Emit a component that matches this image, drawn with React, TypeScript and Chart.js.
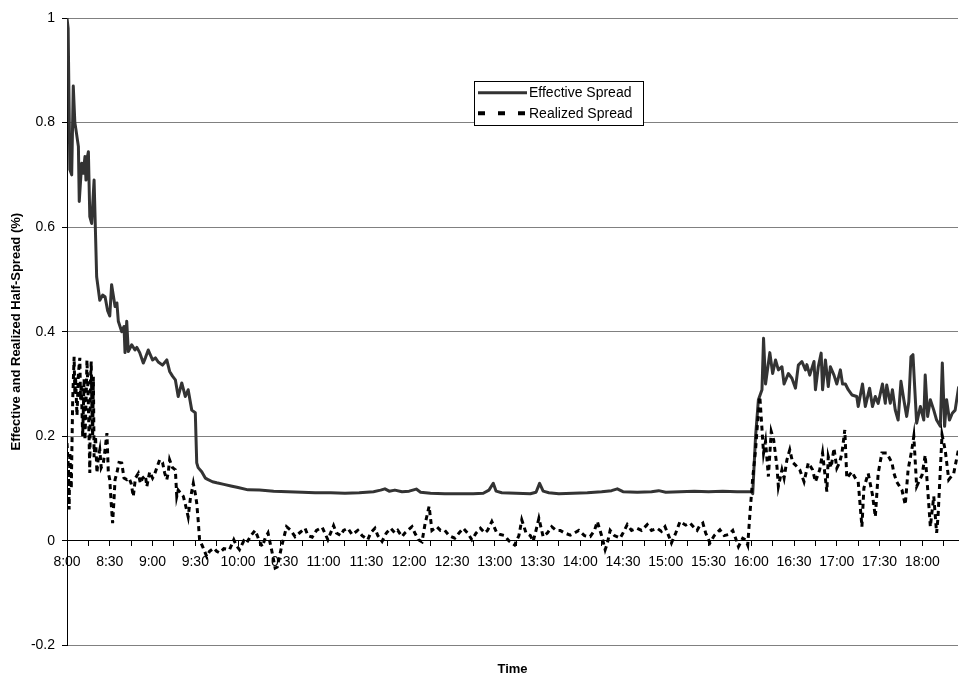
import React, { useEffect, useRef } from 'react';
import { Chart, registerables } from 'chart.js';

Chart.register(...registerables);

// Minutes after 8:00 and values (%)
const EFFECTIVE_TIME = [
  0, 0.8, 2, 3.3, 4.4, 5.5, 6.3, 8, 8.6, 10.3,
  11.4, 12.6, 13.3, 14, 15, 16, 17.3, 19, 20.8, 23,
  25, 26.7, 28.5, 30, 31.3, 33.7, 35, 36, 38.4, 40,
  40.7, 41.9, 43, 45.4, 47.7, 49, 51, 53.5, 55, 57,
  60, 62, 64, 67, 70, 72, 74, 76, 78, 80.5,
  83, 85, 87.5, 90, 91, 92, 94.5, 97, 99, 102,
  105, 110, 115, 120, 127, 135, 145, 155, 165, 174,
  185, 195, 205, 215, 220, 223, 226, 230, 235, 240,
  245, 248, 255, 265, 275, 285, 292, 296, 299, 301,
  305, 315, 325, 329, 331.5, 334, 338, 345, 355, 365,
  375, 382, 386, 390, 400, 410, 415, 420, 430, 440,
  450, 460, 470, 480, 481, 483, 485, 487.5, 488.6, 490,
  493, 495, 497, 499, 501.5, 503, 506, 508.5, 511, 513,
  515.5, 518, 519, 521, 524, 525, 527, 529, 530, 532,
  534, 535.5, 538, 540, 542.5, 544, 546, 548, 550.6, 554,
  555, 558, 560, 563, 565, 567, 569, 572, 574, 575,
  577.5, 579, 581, 583, 585, 587, 589, 590.5, 592, 593.4,
  594.6, 596, 598.6, 601, 602, 603.7, 605.6, 608, 610, 612.6,
  614, 615.6, 617, 619, 621, 623, 625.5,
];

const EFFECTIVE_SPREAD = [
  1.0, 0.98, 0.71, 0.70, 0.87, 0.80, 0.786, 0.754, 0.649, 0.722,
  0.703, 0.735, 0.69, 0.73, 0.744, 0.62, 0.607, 0.69, 0.505, 0.46,
  0.47, 0.467, 0.44, 0.43, 0.49, 0.448, 0.455, 0.42, 0.40, 0.41,
  0.36, 0.42, 0.362, 0.375, 0.365, 0.37, 0.36, 0.34, 0.35, 0.365,
  0.346, 0.35, 0.342, 0.336, 0.346, 0.324, 0.315, 0.308, 0.276, 0.302,
  0.276, 0.289, 0.25, 0.245, 0.149, 0.14, 0.132, 0.12, 0.117, 0.113,
  0.111, 0.108, 0.105, 0.102, 0.0975, 0.097, 0.095, 0.094, 0.093, 0.092,
  0.092, 0.091, 0.092, 0.094, 0.097, 0.0995, 0.095, 0.097, 0.094, 0.095,
  0.099, 0.093, 0.091, 0.090, 0.090, 0.090, 0.091, 0.097, 0.11, 0.095,
  0.092, 0.091, 0.090, 0.093, 0.11, 0.095, 0.092, 0.090, 0.091, 0.092,
  0.094, 0.096, 0.0995, 0.094, 0.093, 0.094, 0.096, 0.093, 0.094, 0.095,
  0.094, 0.095, 0.094, 0.094, 0.09, 0.20, 0.27, 0.289, 0.3875, 0.30,
  0.36, 0.32, 0.346, 0.327, 0.333, 0.30, 0.32, 0.311, 0.292, 0.336,
  0.343, 0.327, 0.337, 0.317, 0.343, 0.289, 0.333, 0.359, 0.289, 0.346,
  0.295, 0.333, 0.317, 0.30, 0.327, 0.30, 0.30, 0.289, 0.279, 0.276,
  0.257, 0.30, 0.257, 0.292, 0.257, 0.276, 0.263, 0.30, 0.263, 0.298,
  0.263, 0.289, 0.25, 0.231, 0.305, 0.27, 0.238, 0.266, 0.352, 0.356,
  0.295, 0.225, 0.257, 0.231, 0.317, 0.238, 0.27, 0.25, 0.231, 0.219,
  0.34, 0.219, 0.27, 0.231, 0.244, 0.25, 0.295,
];

const REALIZED_TIME = [
  0, 1, 1.5, 2, 3, 4, 5, 5.5, 6, 7,
  8, 9, 9.5, 10, 11, 12, 12.6, 13.5, 14, 15,
  16, 16.5, 17, 17.5, 18, 18.5, 19, 20, 21, 22,
  23, 24, 25.5, 26.5, 28, 29, 30, 31, 32, 33,
  33.7, 35, 36.5, 38.4, 40, 42, 43.5, 45, 46.5, 48,
  50, 51.5, 53, 55, 56, 58, 60, 61.5, 63, 65,
  67, 68.5, 70, 71, 72, 74, 76, 77, 78, 80,
  81.6, 83, 85, 86.5, 88.6, 90, 91, 92, 93, 95,
  98, 100, 103, 105, 107, 110, 114, 117, 119, 121,
  124, 126, 129, 132, 135, 137, 139, 141, 143.5, 146,
  147.5, 150.6, 154, 157, 160, 163, 167, 169, 172, 175,
  179, 183, 187, 189, 192, 194, 197, 200, 204, 207,
  211, 213, 216, 218, 221, 224, 227, 230, 232, 235,
  237, 242, 244, 246.5, 249, 251, 254, 256, 259.4, 262,
  265, 268, 272, 275, 278, 281, 284, 287, 290, 293,
  295, 298, 301.5, 304, 307, 310, 314, 317, 319, 322,
  325, 327, 329, 331, 334, 337, 340, 343, 346, 349,
  353, 356, 359, 363, 367, 370, 372, 375, 377.5, 379,
  381, 384, 388, 390, 393, 396, 400, 403, 407, 410,
  414, 417, 419.5, 422, 424, 427, 430, 434, 437, 440,
  442, 444, 446, 448, 451, 454, 458, 461, 464, 467,
  469, 471, 474, 476, 477.5, 479, 481, 483, 484, 486,
  488.6, 490, 492, 494, 495.7, 498, 499, 501.5, 503, 505,
  507, 509, 511, 514, 517, 520, 523, 525, 528, 530,
  533, 534, 536, 538, 540, 542, 543.6, 545.6, 547, 550.6,
  553, 555, 557.6, 559, 562, 565, 567, 569, 571.6, 575,
  578.7, 580, 582, 585.7, 588, 590, 592.6, 594, 596, 599.8,
  602, 604.6, 605.6, 608, 610, 611, 613.8, 616, 618.5, 622,
  625.5,
];

const REALIZED_SPREAD = [
  0.187, 0.14, 0.06, 0.17, 0.10, 0.27, 0.352, 0.28, 0.314, 0.24,
  0.32, 0.35, 0.27, 0.30, 0.20, 0.31, 0.193, 0.28, 0.346, 0.26,
  0.13, 0.31, 0.343, 0.25, 0.20, 0.314, 0.16, 0.20, 0.13, 0.16,
  0.174, 0.14, 0.149, 0.17, 0.206, 0.13, 0.117, 0.072, 0.034, 0.08,
  0.117, 0.13, 0.15, 0.149, 0.12, 0.117, 0.12, 0.11, 0.085, 0.12,
  0.129, 0.11, 0.12, 0.125, 0.104, 0.132, 0.12, 0.128, 0.14, 0.155,
  0.15, 0.13, 0.117, 0.13, 0.155, 0.14, 0.136, 0.085, 0.097, 0.09,
  0.085, 0.07, 0.046, 0.08, 0.11, 0.09, 0.072, 0.04, 0.002, -0.01,
  -0.03, -0.02, -0.014, -0.02, -0.023, -0.015, -0.017, 0.002, -0.01, -0.017,
  0.0, -0.004, 0.01, 0.02, -0.001, -0.011, 0.005, 0.015, -0.017, -0.052,
  -0.05, -0.01, 0.027, 0.02, 0.008, 0.015, 0.024, 0.01, 0.007, 0.02,
  0.026, 0.002, 0.029, 0.015, 0.01, 0.02, 0.024, 0.012, 0.02, 0.01,
  0.002, 0.015, 0.024, 0.01, -0.001, 0.015, 0.024, 0.015, 0.02, 0.008,
  0.015, 0.027, 0.015, 0.002, -0.002, 0.03, 0.066, 0.02, 0.027, 0.02,
  0.02, 0.01, 0.005, 0.015, 0.024, 0.015, 0.002, 0.015, 0.024, 0.015,
  0.02, 0.037, 0.015, 0.012, 0.01, 0.0, -0.008, 0.01, 0.04, 0.015,
  0.01, -0.001, 0.02, 0.043, 0.008, 0.015, 0.027, 0.02, 0.02, 0.015,
  0.011, 0.015, 0.02, 0.01, 0.008, 0.02, 0.037, 0.01, -0.017, -0.005,
  0.02, 0.01, 0.005, 0.015, 0.031, 0.02, 0.024, 0.02, 0.031, 0.02,
  0.024, 0.018, 0.027, 0.01, -0.004, 0.015, 0.037, 0.03, 0.034, 0.025,
  0.02, 0.03, 0.034, 0.015, -0.004, 0.01, 0.021, 0.01, 0.012, 0.02,
  0.005, -0.011, 0.005, 0.002, -0.008, 0.05, 0.12, 0.174, 0.212, 0.276,
  0.168, 0.19, 0.123, 0.209, 0.193, 0.142, 0.104, 0.136, 0.12, 0.155,
  0.174, 0.15, 0.145, 0.136, 0.113, 0.149, 0.136, 0.113, 0.136, 0.168,
  0.094, 0.161, 0.14, 0.177, 0.139, 0.15, 0.168, 0.212, 0.12, 0.132,
  0.12, 0.113, 0.027, 0.101, 0.129, 0.088, 0.046, 0.129, 0.168, 0.168,
  0.149, 0.13, 0.113, 0.097, 0.069, 0.136, 0.174, 0.2, 0.104, 0.126,
  0.164, 0.066, 0.027, 0.085, 0.015, 0.046, 0.203, 0.174, 0.117, 0.129,
  0.177,
];

const TIME_LABELS = [
  '8:00', '8:30', '9:00', '9:30', '10:00', '10:30', '11:00', '11:30', '12:00', '12:30',
  '13:00', '13:30', '14:00', '14:30', '15:00', '15:30', '16:00', '16:30', '17:00', '17:30', '18:00',
];

const SERIES_NAMES = ['Effective Spread', 'Realized Spread'];
const X_TITLE = 'Time';
const Y_TITLE = 'Effective and Realized Half-Spread (%)';

const FONT = '"Liberation Sans", Arial, Helvetica, sans-serif';

const boxLegend = {
  id: 'boxLegend',
  afterDraw(chart: any) {
    const { ctx, chartArea } = chart;
    const x = chartArea.left + 407;
    const y = chartArea.top + 63;
    const w = 169;
    const h = 44;
    ctx.save();
    ctx.fillStyle = '#ffffff';
    ctx.fillRect(x, y, w, h);
    ctx.strokeStyle = '#000000';
    ctx.lineWidth = 1;
    ctx.setLineDash([]);
    ctx.strokeRect(Math.round(x) + 0.5, Math.round(y) + 0.5, w, h);
    chart.data.datasets.forEach((ds: any, i: number) => {
      const ly = y + 11.7 + i * 20.6;
      ctx.beginPath();
      ctx.strokeStyle = ds.borderColor;
      ctx.lineWidth = i === 1 ? 4 : 3;
      ctx.lineCap = 'butt';
      ctx.setLineDash(i === 1 ? [7, 13] : []);
      ctx.moveTo(x + 4, ly);
      ctx.lineTo(x + 53, ly);
      ctx.stroke();
      ctx.setLineDash([]);
      ctx.fillStyle = '#000000';
      ctx.font = `14px ${FONT}`;
      ctx.textAlign = 'left';
      ctx.textBaseline = 'middle';
      ctx.fillText(ds.label, x + 55, ly + 0.5);
    });
    ctx.restore();
  },
};

export default function App() {
  const canvasRef = useRef<HTMLCanvasElement | null>(null);

  useEffect(() => {
    if (!canvasRef.current) return;
    Chart.defaults.font.family = FONT;
    Chart.defaults.color = '#000000';

    const chart = new Chart(canvasRef.current, {
      type: 'line',
      data: {
        datasets: [
          {
            label: SERIES_NAMES[0],
            data: EFFECTIVE_TIME.map((t, i) => ({ x: t, y: EFFECTIVE_SPREAD[i] })),
            borderColor: '#333333',
            borderWidth: 3,
            pointRadius: 0,
            tension: 0,
            borderJoinStyle: 'round',
            fill: false,
            order: 1,
          },
          {
            label: SERIES_NAMES[1],
            data: REALIZED_TIME.map((t, i) => ({ x: t, y: REALIZED_SPREAD[i] })),
            borderColor: '#000000',
            borderWidth: 3,
            borderDash: [5, 4],
            pointRadius: 0,
            tension: 0,
            fill: false,
            order: 0,
          },
        ],
      },
      options: {
        animation: false,
        responsive: true,
        maintainAspectRatio: false,
        layout: { padding: { top: 18, right: 1, bottom: 0, left: 0 } },
        plugins: {
          legend: { display: false },
          tooltip: { enabled: false },
          title: {
            display: true,
            text: X_TITLE,
            position: 'bottom',
            fullSize: false,
            font: { size: 13, weight: 'bold', family: FONT },
            color: '#000000',
            padding: { top: 16, bottom: 0 },
          },
        },
        scales: {
          x: {
            type: 'linear',
            position: { y: 0 } as any,
            min: 0,
            max: 625,
            afterFit: (scale: any) => {
              scale.height = 0;
            },
            ticks: {
              stepSize: 15,
              includeBounds: false,
              autoSkip: false,
              maxRotation: 0,
              minRotation: 0,
              padding: 8,
              font: { size: 14, family: FONT },
              color: '#000000',
              callback: (v: any) => {
                const n = Math.round(Number(v));
                return n % 30 === 0 ? TIME_LABELS[n / 30] ?? '' : '';
              },
            },
            grid: {
              drawOnChartArea: false,
              drawTicks: true,
              tickLength: 5,
              color: '#000000',
              tickColor: '#000000',
            },
            border: { display: true, color: '#000000', width: 1 },
          },
          y: {
            type: 'linear',
            position: 'left',
            min: -0.2,
            max: 1,
            afterFit: (scale: any) => {
              scale.width = 67;
            },
            ticks: {
              stepSize: 0.2,
              padding: 7,
              font: { size: 14, family: FONT },
              color: '#000000',
              callback: (v: any) => String(Math.round(Number(v) * 10) / 10),
            },
            grid: {
              drawTicks: true,
              tickLength: 5,
              lineWidth: 1,
              color: (ctx: any) =>
                ctx.tick && Math.abs(ctx.tick.value) < 1e-9 ? '#000000' : '#808080',
              tickColor: '#000000',
            },
            border: { display: true, color: '#000000', width: 1 },
            title: {
              display: true,
              text: Y_TITLE,
              font: { size: 13, weight: 'bold', family: FONT },
              color: '#000000',
              padding: { top: 9, bottom: 0 },
            },
          },
        },
      },
      plugins: [boxLegend],
    } as any);

    return () => {
      chart.destroy();
    };
  }, []);

  return (
    <div
      style={{
        position: 'absolute',
        left: 0,
        top: 0,
        width: 959,
        height: 677,
        background: '#ffffff',
      }}
    >
      <canvas ref={canvasRef} />
    </div>
  );
}
